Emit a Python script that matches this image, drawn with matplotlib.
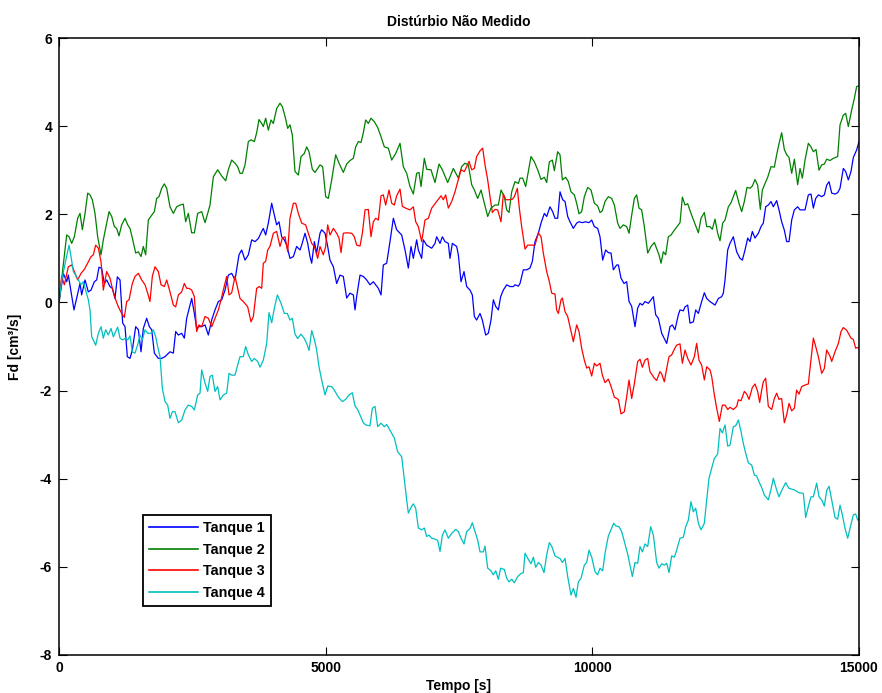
import matplotlib
matplotlib.use("Agg")
import matplotlib.pyplot as plt

plt.rcParams['font.family'] = ['Liberation Sans', 'DejaVu Sans']
plt.rcParams['font.weight'] = 'bold'
plt.rcParams['font.size'] = 10

title = "Distúrbio Não Medido"
xlabel = "Tempo [s]"
ylabel = "Fd [cm³/s]"
labels = ["Tanque 1", "Tanque 2", "Tanque 3", "Tanque 4"]
xticks = [0, 5000, 10000, 15000]
yticks = [-8, -6, -4, -2, 0, 2, 4, 6]

# Tanque 1
t1 = [0, 81, 144, 175, 281, 394, 425, 488, 550, 600, 663, 706, 750, 800, 850, 894, 956, 1000, 1050, 1094,
      1144, 1194, 1238, 1281, 1331, 1375, 1438, 1488, 1538, 1581, 1644, 1694, 1738, 1788, 1863, 1925, 1988,
      2081, 2144, 2188, 2238, 2300, 2350, 2394, 2488, 2538, 2581, 2613, 2675, 2738, 2800, 2863, 2925, 2988,
      3050, 3113, 3175, 3238, 3300, 3375, 3425, 3488, 3550, 3613, 3675, 3738, 3800,
      3831, 3875, 3925, 3988, 4038, 4081, 4125, 4175, 4225, 4269, 4331, 4394, 4456, 4519, 4550, 4613, 4663,
      4706, 4738, 4788, 4831, 4894, 4925, 4988, 5038, 5081, 5144, 5206, 5269, 5331, 5394, 5456, 5519, 5550,
      5581, 5644, 5706, 5769, 5831, 5894, 5988, 6038, 6081, 6144, 6206, 6269, 6331, 6425, 6488, 6550, 6600,
      6644, 6706, 6738, 6800, 6831, 6894, 6988, 7050, 7081, 7144, 7188, 7238, 7300, 7331, 7375, 7456,
      7488, 7538, 7594, 7644, 7706, 7750, 7788, 7831, 7894, 7938, 8000, 8050, 8100, 8144, 8188, 8238, 8281,
      8331, 8394, 8456, 8519, 8550, 8613, 8644, 8706, 8769, 8831, 8875, 8925, 8988, 9038, 9100, 9144, 9206,
      9256, 9300, 9350, 9394, 9444, 9488, 9538, 9581, 9644, 9706, 9750, 9813, 9875, 9938, 9988, 10038,
      10100, 10144, 10194, 10250, 10300, 10350, 10394, 10456, 10488, 10538, 10594, 10644, 10688, 10738,
      10800, 10850, 10894, 10938, 10988, 11050, 11100, 11144, 11188, 11238,
      11300, 11394, 11456, 11500, 11550, 11613, 11644, 11706, 11738, 11788, 11831, 11894, 11938, 11988,
      12050, 12100, 12144, 12206, 12300, 12363, 12425, 12456, 12488, 12538, 12581, 12644, 12706, 12769,
      12813, 12863, 12913, 12956, 13000, 13050, 13113, 13163, 13206, 13250, 13300, 13350, 13394, 13456,
      13500, 13550, 13600, 13644, 13688, 13738, 13788, 13850, 13894, 13988, 14050, 14100, 14144, 14188,
      14238, 14300, 14350, 14394, 14438, 14488, 14550, 14600, 14644, 14706, 14750, 14800, 14850, 14894,
      14956, 15000]
fd1 = [0.00, 0.66, 0.47, 0.62, -0.17, 0.43, 0.17, 0.51, 0.24, 0.28, 0.47, 0.51, 0.80, 0.77, 0.43, 0.51, 0.36,
       0.32, 0.09, 0.58, 0.51, -0.47, -0.55, -1.23, -1.27, -1.08, -0.55, -0.62, -1.12, -0.59, -0.36, -0.55,
       -0.62, -1.15, -1.27, -1.27, -1.23, -1.12, -1.15, -0.66, -0.74, -0.70, -0.81, -0.36, 0.09, -0.25,
       -0.59, -0.55, -0.55, -0.51, -0.74, -0.40, -0.17, 0.02, 0.06, 0.28, 0.62, 0.66, 0.51, 1.08, 1.19, 0.96,
       1.08, 1.42, 1.38, 1.45, 1.61,
       1.68, 1.53, 1.80, 2.25, 1.98, 1.76, 1.83, 1.49, 1.42, 1.30, 1.00, 1.04, 1.27, 1.19, 1.30, 1.57, 1.34,
       1.04, 0.89, 1.38, 1.12, 1.57, 1.65, 1.57, 1.27, 0.96, 0.81, 0.43, 0.62, 0.59, 0.10, 0.21, 0.17, -0.17,
       0.13, 0.62, 0.59, 0.51, 0.40, 0.47, 0.32, 0.17, 0.85, 0.89, 1.38, 1.91, 1.65, 1.53, 1.19, 0.78, 1.27,
       1.00, 1.42, 1.19, 1.00, 1.42, 1.30, 1.23, 1.34, 1.49, 1.34, 1.49, 1.38, 1.34, 1.00, 1.34, 1.27,
       1.08, 0.47, 0.70, 0.36, 0.28, 0.17, -0.32, -0.40, -0.25, -0.40, -0.74, -0.70, -0.40, 0.06, -0.09,
       -0.17, 0.13, 0.28, 0.40, 0.36, 0.36, 0.40, 0.37, 0.43, 0.74, 0.74, 0.78, 0.93, 1.38, 1.57, 1.80, 2.02,
       1.95, 2.17, 2.06, 1.91, 1.91, 2.51, 2.33, 2.29, 1.95, 1.83, 1.68, 1.80, 1.83, 1.81, 1.83, 1.81, 1.87,
       1.72, 1.68, 1.49, 0.96, 1.19, 1.13, 1.12, 0.74, 0.85, 0.85, 0.55, 0.43, 0.47, 0.02, -0.09, -0.55,
       -0.13, -0.02, -0.06, 0.02, -0.02, 0.06, 0.13, -0.28, -0.36,
       -0.70, -0.93, -0.55, -0.51, -0.62, -0.28, -0.17, -0.19, -0.10, -0.06, -0.47, -0.44, -0.17, -0.25,
       0.02, 0.22, 0.09, 0.02, -0.06, 0.09, 0.13, 0.21, 0.51, 1.19, 1.34, 1.49, 1.15, 1.00, 0.96, 1.19, 1.46,
       1.38, 1.61, 1.46, 1.57, 1.72, 1.80, 2.17, 2.21, 2.29, 2.17, 2.31, 2.10, 1.83, 1.64, 1.38, 1.38, 1.87,
       2.10, 2.17, 2.10, 2.10, 2.44, 2.46, 2.14, 2.36, 2.44, 2.40, 2.44, 2.66, 2.74, 2.48, 2.46, 2.49, 2.59,
       3.04, 2.97, 2.78, 2.97, 3.29, 3.46, 3.65]

# Tanque 2
t2 = [0, 144, 188, 238, 288, 350, 394, 438, 488, 538, 581, 625, 675, 725, 788, 831, 875, 938, 988, 1038,
      1081, 1125, 1175, 1238, 1288, 1331, 1375, 1438, 1488, 1538, 1581, 1625, 1675, 1738, 1788, 1831, 1875,
      1925, 1975, 2019, 2081, 2144, 2206, 2269, 2331, 2375, 2425, 2488, 2538, 2600, 2675, 2738, 2788, 2831,
      2894, 2975, 3050, 3125, 3175, 3238, 3300, 3350, 3394, 3438, 3488, 3550, 3600, 3663, 3706, 3750, 3800,
      3831, 3875, 3925, 3975, 4019, 4081, 4144, 4188, 4238, 4288, 4331, 4375, 4425, 4488, 4538, 4600, 4644,
      4688, 4750, 4800, 4850, 4894, 4944, 5000, 5050, 5113, 5188, 5250, 5331, 5394, 5456, 5519, 5563, 5613,
      5663, 5706, 5750, 5800, 5850, 5913, 5975, 6038, 6100, 6175, 6238, 6313, 6394, 6456, 6519, 6581, 6644,
      6706, 6750, 6788, 6850, 6894, 6975, 7050, 7125, 7188, 7288, 7394,
      7488, 7550, 7613, 7675, 7738, 7788, 7850, 7913, 8038, 8100, 8175, 8238, 8288, 8350, 8394, 8438, 8488,
      8550, 8613, 8644, 8694, 8750, 8800, 8850, 8913, 8975, 9038, 9100, 9144, 9194, 9250, 9288, 9350, 9394,
      9438, 9500, 9550, 9600, 9663, 9706, 9750, 9800, 9850, 9913, 9975, 10038, 10100, 10144, 10188, 10238,
      10300, 10363, 10413, 10475, 10519, 10581, 10644, 10688, 10738, 10788, 10831, 10875, 10925, 10975,
      11038, 11100, 11163,
      11250, 11288, 11331, 11375, 11425, 11475, 11538, 11600, 11644, 11688, 11738, 11788, 11850, 11925,
      11988, 12038, 12100, 12144, 12206, 12250, 12300, 12350, 12394, 12444, 12488, 12550, 12600, 12688,
      12750, 12800, 12850, 12900, 12956, 13000, 13050, 13100, 13150, 13188, 13238, 13288, 13350, 13413,
      13456, 13500, 13550, 13600, 13644, 13688, 13738, 13788, 13850, 13894, 13938, 13988, 14050, 14100,
      14144, 14194, 14250, 14300, 14350, 14394, 14456, 14519, 14600, 14644, 14706, 14750, 14800, 14863,
      14913, 14956, 15000]
fd2 = [0.00, 1.53, 1.49, 1.34, 1.49, 1.91, 2.02, 1.65, 2.02, 2.48, 2.44, 2.33, 2.02, 1.49, 1.08, 1.42, 1.68,
       2.06, 1.95, 1.72, 1.68, 1.51, 1.76, 1.91, 1.76, 1.68, 1.46, 1.12, 1.15, 1.04, 1.27, 1.08, 1.87, 1.98,
       2.06, 2.36, 2.40, 2.59, 2.69, 2.59, 2.17, 2.02, 2.17, 2.21, 2.23, 1.83, 2.02, 1.58, 1.58, 2.02, 2.06,
       1.81, 2.02, 2.21, 2.85, 3.01, 2.87, 2.76, 3.01, 3.23, 3.16, 3.08, 2.93, 2.93, 3.12, 3.65, 3.69, 3.65,
       3.85, 4.15, 4.06,
       3.99, 4.18, 3.91, 4.14, 4.06, 4.40, 4.52, 4.44, 4.22, 3.95, 4.03, 3.80, 2.97, 2.89, 3.31, 3.38, 3.53,
       3.42, 3.02, 2.95, 3.04, 3.12, 3.08, 2.40, 2.36, 2.78, 3.35, 3.16, 2.95, 3.14, 3.22, 3.27, 3.53, 3.65,
       3.63, 3.85, 4.14, 4.06, 4.18, 4.10, 3.97, 3.76, 3.53, 3.50, 3.23, 3.38, 3.61, 3.08, 2.93, 2.63, 2.46,
       2.93, 2.95, 2.63, 3.27, 3.02, 3.01, 2.72, 3.14, 3.01, 2.72, 3.04,
       2.82, 3.08, 3.16, 3.12, 2.67, 2.55, 2.36, 2.55, 1.95, 2.14, 2.21, 2.21, 2.55, 2.40, 2.10, 2.04, 2.51,
       2.74, 2.70, 2.82, 2.82, 2.63, 2.97, 3.31, 3.19, 3.01, 2.79, 2.84, 2.72, 3.19, 3.23, 2.99, 3.42, 3.35,
       2.78, 2.84, 2.74, 2.51, 2.44, 2.25, 2.01, 2.06, 2.40, 2.61, 2.55, 2.25, 2.19, 2.04, 2.08, 2.29, 2.40,
       2.36, 2.21, 1.80, 1.68, 1.76, 1.72, 1.57, 1.98, 2.36, 2.44, 2.14, 2.10, 1.72, 1.12, 1.27, 1.36,
       1.08, 0.89, 1.15, 1.08, 1.49, 1.53, 1.64, 1.74, 1.81, 2.39, 2.21, 2.24, 2.02, 1.78, 1.58, 1.91, 2.04,
       1.72, 1.72, 1.66, 1.89, 1.57, 1.40, 1.80, 1.87, 2.17, 2.26, 2.54, 2.25, 2.06, 2.29, 2.61, 2.59, 2.64,
       2.79, 2.66, 2.11, 2.55, 2.70, 2.84, 3.08, 3.07, 3.35, 3.60, 3.85, 3.47, 3.35, 3.29, 2.93, 3.25, 2.67,
       3.04, 2.82, 3.23, 3.61, 3.53, 3.42, 3.47, 3.00, 3.12, 3.14, 3.25, 3.22, 3.27, 3.31, 4.03, 4.25, 4.29,
       3.99, 4.37, 4.63, 4.90, 4.91]

# Tanque 3
t3 = [0, 50, 100, 175, 238, 300, 350, 413, 475, 550, 600, 644, 688, 738, 788, 831, 894, 956, 1000, 1063,
      1113, 1175, 1225, 1269, 1313, 1375, 1425, 1488, 1550, 1613, 1663, 1706, 1750, 1800, 1863, 1913, 1975,
      2019, 2081, 2144, 2188, 2238, 2300, 2350, 2394, 2438, 2488, 2538, 2581, 2625, 2675, 2738, 2800, 2863,
      2925, 2988, 3038, 3081, 3144, 3188, 3238, 3300, 3350, 3394, 3456, 3538, 3600, 3644, 3706, 3756, 3800,
      3831, 3875, 3913, 3956, 4019, 4081, 4144, 4188, 4238, 4288, 4331, 4394, 4438, 4488, 4550, 4625, 4675,
      4738, 4788, 4850, 4894, 4956, 5000, 5038, 5081, 5144, 5206, 5250, 5288, 5331, 5394, 5488, 5538, 5581,
      5644, 5688, 5738, 5800, 5850, 5894, 5938, 5988, 6038, 6081, 6125, 6188, 6238, 6288, 6331, 6394, 6438,
      6500, 6581, 6644, 6688, 6738, 6800, 6863, 6925, 6988, 7081, 7163, 7206, 7250, 7300, 7363, 7425,
      7538, 7600, 7644, 7688, 7738, 7788, 7831, 7894, 7944, 7988, 8038, 8081, 8125, 8175, 8225, 8288, 8331,
      8375, 8425, 8500, 8538, 8594, 8631, 8675, 8738, 8788, 8863, 8925, 8988, 9038, 9081, 9144, 9194, 9238,
      9300, 9331, 9363, 9413, 9438, 9488,
      9538, 9581, 9644, 9706, 9750, 9800, 9850, 9894, 9938, 9988, 10038, 10081, 10144, 10188, 10238, 10300,
      10350, 10413, 10488, 10538, 10600, 10644, 10688, 10738, 10788, 10850, 10894, 10938, 10988, 11038,
      11081, 11163, 11206, 11269, 11300, 11350, 11394, 11438, 11488, 11538, 11581, 11644, 11688, 11738,
      11788, 11850, 11913, 11956, 12000, 12050, 12100, 12144, 12206, 12238, 12288, 12331, 12381, 12438,
      12488, 12538, 12581, 12644, 12706, 12738, 12788, 12850, 12894, 12938, 13000, 13050, 13100, 13138,
      13175, 13206, 13250, 13300, 13363, 13413, 13456, 13500, 13550, 13600, 13644, 13688, 13738, 13788,
      13831, 13875, 13925, 14000, 14050, 14081, 14144, 14188, 14238, 14300, 14350, 14394, 14456, 14488,
      14550, 14613, 14663, 14706, 14769, 14850, 14894, 14938, 14975, 15000]
fd3 = [0.00, 0.59, 0.40, 0.81, 0.85, 0.66, 0.51, 0.66, 0.75, 0.92, 1.04, 1.08, 1.30, 1.23, 0.92, 0.28, 0.70,
       0.55, 0.32, 0.06, -0.10, -0.25, -0.34, 0.02, 0.06, 0.43, 0.59, 0.66, 0.51, 0.40, 0.21, 0.02, 0.59,
       0.81, 0.70, 0.40, 0.36, 0.51, 0.24, -0.06, -0.10, 0.17, 0.24, 0.43, 0.32, 0.32, 0.28, 0.13, -0.66,
       -0.51, -0.55, -0.32, -0.36, -0.55, -0.36, -0.17, 0.06, 0.28, 0.59, 0.17, 0.22, 0.59, 0.32, 0.09, 0.02,
       -0.10, -0.44, -0.32, 0.32, 0.36, 0.32,
       0.89, 0.93, 1.19, 1.27, 1.57, 1.61, 1.27, 1.46, 1.49, 1.15, 1.91, 2.25, 2.25, 2.02, 1.80, 1.76, 1.57,
       1.34, 1.27, 1.00, 1.27, 1.08, 1.27, 1.76, 1.53, 1.68, 1.57, 1.46, 1.13, 1.57, 1.58, 1.57, 1.49, 1.30,
       1.28, 1.57, 2.10, 2.11, 1.49, 1.83, 1.91, 1.87, 2.42, 2.44, 2.21, 2.55, 2.25, 2.21, 2.42, 2.57, 2.18,
       2.14, 2.10, 2.17, 1.83, 1.72, 1.38, 1.87, 1.91, 2.14, 2.29, 2.42, 2.33, 2.44, 2.14, 2.29, 2.51,
       3.01, 2.97, 3.08, 3.20, 3.01, 3.04, 3.31, 3.44, 3.50, 3.12, 2.78, 2.40, 2.04, 2.11, 2.10, 1.83, 2.46,
       2.33, 2.33, 2.34, 2.40, 2.59, 2.14, 1.72, 1.21, 1.30, 1.30, 1.30, 1.58, 1.49, 1.12, 0.70, 0.47, 0.21,
       0.19, -0.17, -0.25, 0.06, 0.10, -0.21,
       -0.32, -0.55, -0.89, -0.51, -0.66, -1.04, -1.31, -1.49, -1.46, -1.67, -1.38, -1.44, -1.38, -1.65,
       -1.82, -1.74, -1.90, -2.15, -2.20, -2.53, -2.48, -2.14, -1.76, -2.18, -1.84, -1.34, -1.29, -1.47,
       -1.31, -1.27, -1.57, -1.72, -1.77, -1.57, -1.62, -1.80, -1.50, -1.23, -1.19, -1.06, -0.97, -0.94,
       -1.38, -1.08, -1.27, -1.42, -1.23, -0.93, -1.31, -1.42, -1.76, -1.46, -1.53, -1.68, -2.10, -2.40,
       -2.70, -2.33, -2.33, -2.43, -2.38, -2.43, -2.36, -2.21, -2.23, -2.02, -2.08, -2.20, -1.93, -1.85,
       -2.02, -2.27, -1.99, -1.80, -1.72, -2.36, -2.43, -2.18, -2.06, -2.20, -2.18, -2.73, -2.55, -2.29,
       -2.46, -2.40, -1.99, -2.08, -1.91, -1.87, -1.85, -1.50, -0.81, -1.00, -1.23, -1.61, -1.50, -1.08,
       -1.22, -1.34, -1.12, -0.93, -0.66, -0.57, -0.63, -0.81, -0.84, -1.04, -1.02, -1.05]

# Tanque 4
t4 = [0, 50, 188, 225, 269, 313, 363, 413, 456, 500, 550, 581, 613, 688, 738, 788, 831, 875, 925, 975, 1019,
      1063, 1100, 1144, 1188, 1250, 1288, 1331, 1375, 1425, 1475, 1519, 1563, 1613, 1663, 1725, 1769, 1813,
      1850, 1894, 1938, 1988, 2038, 2081, 2125, 2175, 2238, 2300, 2363, 2425, 2488, 2538, 2600, 2644, 2675,
      2738, 2788, 2831, 2875, 2925, 2975, 3019, 3081, 3144, 3188, 3238, 3300, 3350, 3394, 3456, 3500, 3550,
      3613, 3663,
      3725, 3769, 3831, 3894, 3938, 3988, 4038, 4094, 4163, 4225, 4281, 4331, 4375, 4425, 4475, 4538, 4600,
      4644, 4688, 4738, 4788, 4831, 4875, 4925, 4988, 5038, 5113, 5163, 5238, 5313, 5375, 5438, 5500, 5550,
      5600, 5663, 5706, 5750, 5831, 5875, 5925, 5975, 6038, 6100, 6144, 6188, 6238, 6288, 6350, 6425, 6475,
      6519, 6550, 6600, 6644, 6688, 6738, 6800, 6850, 6894, 6938, 6988, 7050, 7100, 7144, 7188, 7238, 7300,
      7363, 7438,
      7488, 7538, 7594, 7644, 7706, 7750, 7800, 7850, 7894, 7956, 7988, 8038, 8100, 8144, 8188, 8238, 8281,
      8350, 8394, 8438, 8488, 8538, 8600, 8663, 8706, 8738, 8800, 8850, 8894, 8938, 8988, 9038, 9094, 9144,
      9194, 9238, 9300, 9344, 9394, 9438, 9488, 9538, 9600, 9644, 9694, 9738, 9788, 9850, 9894, 9938, 9988,
      10050, 10100, 10144, 10194, 10238, 10300, 10350, 10400, 10438, 10500, 10550, 10600, 10663, 10706,
      10750, 10800, 10850, 10894, 10938, 10988, 11038, 11094, 11144, 11206, 11250,
      11300, 11350, 11394, 11438, 11488, 11538, 11581, 11644, 11706, 11750, 11800, 11850, 11894, 11938,
      11988, 12038, 12100, 12144, 12188, 12238, 12288, 12350, 12394, 12438, 12488, 12538, 12581, 12644,
      12688, 12738, 12788, 12831, 12875, 12925, 12988, 13038, 13081, 13125, 13175, 13225, 13300, 13350,
      13394, 13456, 13500, 13550, 13625, 13688, 13750, 13800, 13875, 13956, 14000, 14050, 14100, 14144,
      14206, 14250, 14300, 14350, 14394, 14438, 14488, 14550, 14600, 14644, 14688, 14738, 14788, 14831,
      14894, 14938, 14975, 15000]
fd4 = [0.00, 0.51, 1.30, 1.04, 0.70, 0.62, 0.51, 0.40, 0.47, 0.28, 0.06, -0.17, -0.78, -0.97, -0.70, -0.55,
       -0.81, -0.62, -0.74, -0.59, -0.78, -0.66, -0.56, -0.81, -0.85, -0.81, -0.85, -0.76, -1.12, -1.15,
       -0.96, -0.74, -0.85, -0.62, -0.70, -0.70, -0.62, -0.78, -1.00, -1.23, -1.95, -2.25, -2.33, -2.63,
       -2.48, -2.48, -2.73, -2.67, -2.44, -2.33, -2.36, -2.44, -2.10, -2.06, -1.53, -1.83, -2.02, -1.68,
       -1.65, -2.02, -1.91, -2.21, -2.10, -2.06, -1.61, -1.65, -1.65, -1.42, -1.23, -1.23, -1.00, -1.19,
       -1.34, -1.27,
       -1.34, -1.47, -1.31, -0.93, -0.23, -0.46, -0.13, 0.17, -0.02, -0.25, -0.25, -0.40, -0.36, -0.72,
       -0.82, -0.72, -0.82, -0.93, -1.09, -0.64, -0.84, -1.08, -1.46, -1.76, -2.10, -1.90, -1.91, -1.99,
       -2.15, -2.25, -2.20, -2.10, -2.05, -2.35, -2.43, -2.61, -2.73, -2.78, -2.80, -2.40, -2.36, -2.82,
       -2.74, -2.82, -2.77, -2.86, -2.97, -3.08, -3.39, -3.50, -4.03, -4.48, -4.78, -4.65, -4.57, -4.67,
       -5.12, -5.16, -5.12, -5.31, -5.28, -5.35, -5.37, -5.40, -5.65, -5.28, -5.16, -5.35, -5.24, -5.15,
       -5.20, -5.35, -5.48, -5.20, -5.13, -5.00, -5.20, -5.39, -5.66, -5.66, -5.53, -6.03, -6.09, -6.18,
       -6.09, -6.28, -6.03, -6.06, -6.26, -6.34, -6.28, -6.36, -6.22, -6.15, -6.13, -5.69, -5.83, -5.93,
       -5.78, -6.01, -5.90, -5.96, -6.13, -5.73, -5.45, -5.53, -5.75, -5.78, -5.81, -5.90, -5.81, -6.22,
       -6.64, -6.49, -6.69, -6.34, -6.26, -5.96, -5.90, -5.62, -5.78, -6.11, -6.18, -6.03, -6.09, -5.69,
       -5.30, -5.16, -5.01, -5.07, -5.09, -5.20, -5.43, -5.71, -5.96, -6.22, -5.90, -5.92, -5.54, -5.66,
       -5.48, -5.54, -5.09, -5.28, -5.90, -6.03,
       -5.93, -5.96, -5.92, -6.13, -5.75, -5.78, -5.62, -5.35, -5.33, -5.09, -4.94, -4.52, -4.75, -4.67,
       -5.01, -5.16, -5.01, -4.48, -3.99, -3.76, -3.54, -3.44, -2.86, -2.96, -2.78, -3.26, -3.24, -2.82,
       -2.80, -2.67, -2.93, -3.20, -3.42, -3.64, -3.69, -3.92, -3.94, -4.07, -4.20, -4.37, -4.48, -4.24,
       -3.99, -4.26, -4.41, -4.27, -4.09, -4.22, -4.24, -4.26, -4.32, -4.33, -4.88, -4.63, -4.41, -4.41,
       -4.10, -4.41, -4.48, -4.62, -4.27, -4.17, -4.48, -4.88, -4.92, -4.60, -4.82, -5.13, -5.35, -5.13,
       -4.82, -4.80, -4.94, -4.90]

series_t = [t1, t2, t3, t4]
series_fd = [fd1, fd2, fd3, fd4]
colors = ["#0000ff", "#008000", "#ff0000", "#00bfbf"]

fig = plt.figure(figsize=(8.82, 6.93), dpi=100)
ax = fig.add_axes([59 / 882, 1 - 655 / 693, 800 / 882, 617 / 693])

for t, fd, c, lab in zip(series_t, series_fd, colors, labels):
    ax.plot(t, fd, color=c, lw=0.9, label=lab)

ax.set_xlim(0, 15000)
ax.set_ylim(-8, 6)
ax.set_xticks(xticks)
ax.set_yticks(yticks)
ax.set_xticklabels([str(v) for v in xticks])
ax.set_yticklabels([str(v) for v in yticks])
ax.tick_params(direction='in', length=6, width=0.8, top=True, right=True,
               labelsize=10, colors='black')
ax.tick_params(axis='x', pad=4)
ax.tick_params(axis='y', pad=5)
for s in ax.spines.values():
    s.set_linewidth(1.1)
    s.set_color('black')

ax.set_title(title, fontsize=10, fontweight='bold', pad=9)
ax.set_xlabel(xlabel, fontsize=10, fontweight='bold', labelpad=3)
ax.set_ylabel(ylabel, fontsize=10, fontweight='bold', labelpad=13)

leg = ax.legend(loc='upper left', bbox_to_anchor=(0.1046, 0.2269), borderaxespad=0,
                frameon=True, fancybox=False, edgecolor='black', framealpha=1,
                handlelength=3.4, handletextpad=0.35, labelspacing=0.52, borderpad=0.45,
                prop={'family': ['Liberation Sans'], 'weight': 'bold', 'size': 10.3})
leg.get_frame().set_linewidth(1.3)
for line in leg.get_lines():
    line.set_linewidth(1.2)

fig.savefig('out.png', dpi=100)
